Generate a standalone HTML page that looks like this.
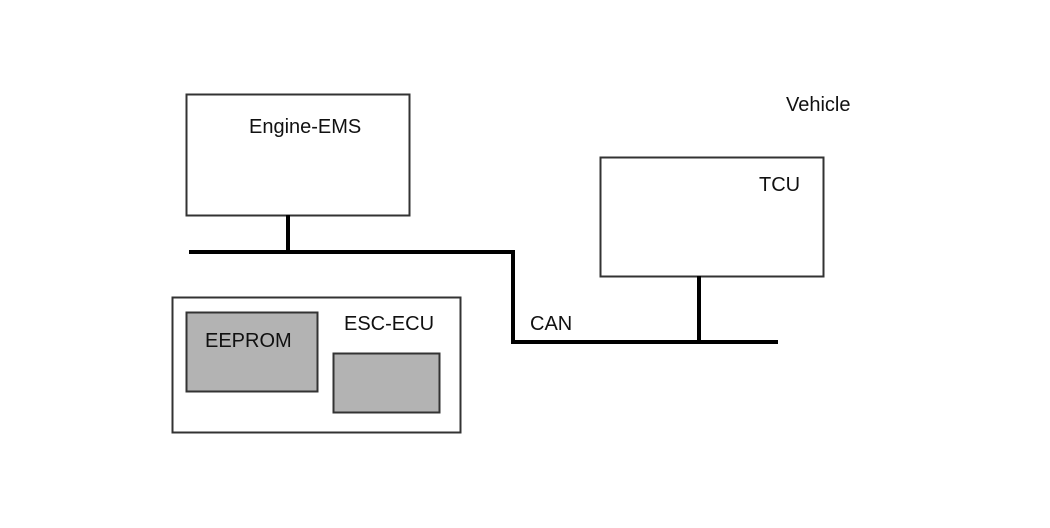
<!DOCTYPE html>
<html><head><meta charset="utf-8"><style>
html,body{margin:0;padding:0;background:#fff;}
svg{display:block;}
text{font-family:"Liberation Sans",sans-serif;font-size:20px;fill:#111;}
</style></head><body>
<svg width="1050" height="528" viewBox="0 0 1050 528" xmlns="http://www.w3.org/2000/svg">
<rect x="0" y="0" width="1050" height="528" fill="#fff"/>
<rect x="186.5" y="94.5" width="223" height="121" fill="#fff" stroke="#333" stroke-width="2"/>
<text x="249" y="133">Engine-EMS</text>
<text x="786" y="111">Vehicle</text>
<rect x="600.5" y="157.5" width="223" height="119" fill="#fff" stroke="#333" stroke-width="2"/>
<text x="759" y="191">TCU</text>
<polyline points="189,252 513,252 513,342 778,342" fill="none" stroke="#000" stroke-width="4"/>
<line x1="288" y1="215" x2="288" y2="252" stroke="#000" stroke-width="4"/>
<line x1="699" y1="276" x2="699" y2="342" stroke="#000" stroke-width="4"/>
<text x="530" y="330">CAN</text>
<rect x="172.5" y="297.5" width="288" height="135" fill="#fff" stroke="#333" stroke-width="2"/>
<rect x="186.5" y="312.5" width="131" height="79" fill="#b3b3b3" stroke="#333" stroke-width="2"/>
<text x="205" y="347">EEPROM</text>
<text x="344" y="330">ESC-ECU</text>
<rect x="333.5" y="353.5" width="106" height="59" fill="#b3b3b3" stroke="#333" stroke-width="2"/>
</svg>
</body></html>
